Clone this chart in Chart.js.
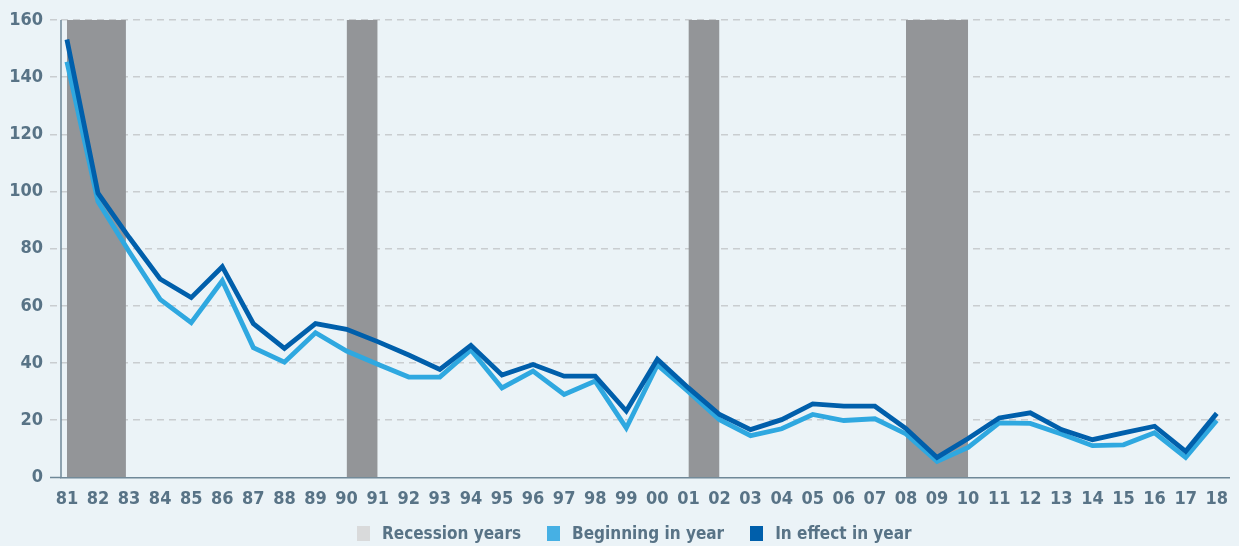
<!DOCTYPE html>
<html>
<head>
<meta charset="utf-8">
<script src="https://cdn.jsdelivr.net/npm/chart.js@4.4.1/dist/chart.umd.min.js"></script>
<style>
  html, body { margin: 0; padding: 0; background: #ebf3f7; }
  #wrap { width: 1239px; height: 546px; position: relative; }
  #legend { position: absolute; left: 357px; top: 523px; display: flex; align-items: center; height: 20px;
            font-family: "DejaVu Sans Condensed", "Liberation Sans Narrow", sans-serif; font-weight: bold; font-size: 17px; color: #587386; white-space: nowrap; }
  #legend .item { display: flex; align-items: center; margin-right: 26px; }
  #legend .sw { width: 13px; height: 15px; margin-right: 12px; }
</style>
</head>
<body>
<div id="wrap"><canvas id="c" width="1239" height="546"></canvas><div id="legend"></div></div>
<script>
const years = ['81','82','83','84','85','86','87','88','89','90','91','92','93','94','95','96','97','98','99','00','01','02','03','04','05','06','07','08','09','10','11','12','13','14','15','16','17','18'];
const beginningInYear = [145.4,96.5,79,62.3,54.1,68.8,45.4,40.3,50.6,44.2,39.6,35.1,35.1,44.6,31.3,37.2,29.0,33.7,17.3,39.3,30.0,20.2,14.6,17.0,22.0,19.9,20.5,15.2,5.6,10.5,19.1,18.9,15.2,11.1,11.4,15.6,7.0,19.9];
const inEffectInYear = [153.2,99.4,84,69.4,62.9,73.7,53.8,45.1,53.8,51.8,47.5,42.8,37.8,46.2,35.8,39.5,35.4,35.4,23.2,41.3,31.3,22.0,16.7,20.2,25.7,24.9,24.9,17.1,7.0,13.6,20.8,22.6,16.7,13.2,15.6,17.9,9.1,22.4];
const recessionStart = [0, 9, 20, 27];
const recessionEnd = [1.9, 10, 21, 29];
const yTicks = [0,20,40,60,80,100,120,140,160];
const legendLabels = ['Recession years', 'Beginning in year', 'In effect in year'];

const FONT = '"DejaVu Sans Condensed", "Liberation Sans Narrow", sans-serif';
const TXT = '#587386';
const AXIS = '#6f8898';
const GRID = '#c9cdd0';
const RECESSION = '#939598';
const LIGHT = '#2fa8e0';
const DARK = '#005fab';
const legendColors = ['#d9dadb', '#46b0e4', DARK];

// HTML legend
const lg = document.getElementById('legend');
legendLabels.forEach((t, i) => {
  const it = document.createElement('div'); it.className = 'item';
  const sw = document.createElement('div'); sw.className = 'sw'; sw.style.background = legendColors[i];
  const tx = document.createElement('span'); tx.textContent = t;
  it.appendChild(sw); it.appendChild(tx); lg.appendChild(it);
});

const recessionSets = recessionStart.map((s, i) => ({
  label: 'Recession years',
  data: [{x: s, y: 0}, {x: s, y: 160}, {x: recessionEnd[i], y: 160}, {x: recessionEnd[i], y: 0}],
  borderWidth: 0,
  borderColor: 'rgba(0,0,0,0)',
  backgroundColor: RECESSION,
  fill: 'origin',
  pointRadius: 0,
  tension: 0,
  order: 3
}));

const toPts = arr => arr.map((v, i) => ({x: i, y: v}));

// solid y axis line (border hidden so grid dash does not apply to it)
const yAxisLine = {
  id: 'yAxisLine',
  beforeDatasetsDraw(chart) {
    const {ctx, chartArea} = chart;
    const y = chart.scales.y;
    ctx.save();
    ctx.strokeStyle = AXIS;
    ctx.lineWidth = 1.5;
    ctx.setLineDash([]);
    ctx.beginPath();
    ctx.moveTo(chartArea.left, y.getPixelForValue(160));
    ctx.lineTo(chartArea.left, y.getPixelForValue(0));
    ctx.moveTo(chartArea.left - 11, y.getPixelForValue(0));
    ctx.lineTo(chartArea.left, y.getPixelForValue(0));
    ctx.stroke();
    ctx.restore();
  }
};

new Chart(document.getElementById('c'), {
  type: 'line',
  data: {
    datasets: [
      ...recessionSets,
      {
        label: 'Beginning in year',
        data: toPts(beginningInYear),
        borderColor: LIGHT,
        borderWidth: 4.8,
        pointRadius: 0,
        tension: 0,
        fill: false,
        order: 2
      },
      {
        label: 'In effect in year',
        data: toPts(inEffectInYear),
        borderColor: DARK,
        borderWidth: 4.8,
        pointRadius: 0,
        tension: 0,
        fill: false,
        order: 1
      }
    ]
  },
  plugins: [yAxisLine],
  options: {
    responsive: false,
    animation: false,
    events: [],
    layout: { padding: { left: 0, right: 0, top: 20, bottom: 25 } },
    plugins: {
      tooltip: { enabled: false },
      legend: { display: false }
    },
    scales: {
      x: {
        type: 'linear',
        min: -0.19,
        max: 37.42,
        afterBuildTicks: axis => { axis.ticks = years.map((_, i) => ({ value: i })); },
        ticks: {
          autoSkip: false,
          maxRotation: 0,
          padding: 11,
          color: TXT,
          font: { family: FONT, size: 18, weight: 'bold' },
          callback: v => years[v]
        },
        grid: { display: false, drawTicks: false },
        border: { display: true, color: AXIS, width: 1.5 }
      },
      y: {
        min: 0,
        max: 160,
        afterBuildTicks: axis => { axis.ticks = yTicks.map(v => ({ value: v })); },
        afterFit: axis => { axis.width = 61; },
        ticks: {
          padding: 7,
          color: TXT,
          font: { family: FONT, size: 18, weight: 'bold' }
        },
        grid: {
          color: ctx => ctx.tick && ctx.tick.value === 0 ? 'rgba(0,0,0,0)' : GRID,
          tickColor: ctx => ctx.tick && ctx.tick.value === 0 ? 'rgba(0,0,0,0)' : GRID,
          lineWidth: 1.5,
          tickLength: 11,
          drawTicks: true,
          tickBorderDash: [7, 5]
        },
        border: { display: false, dash: [7, 5] }
      }
    }
  }
});
</script>
</body>
</html>
